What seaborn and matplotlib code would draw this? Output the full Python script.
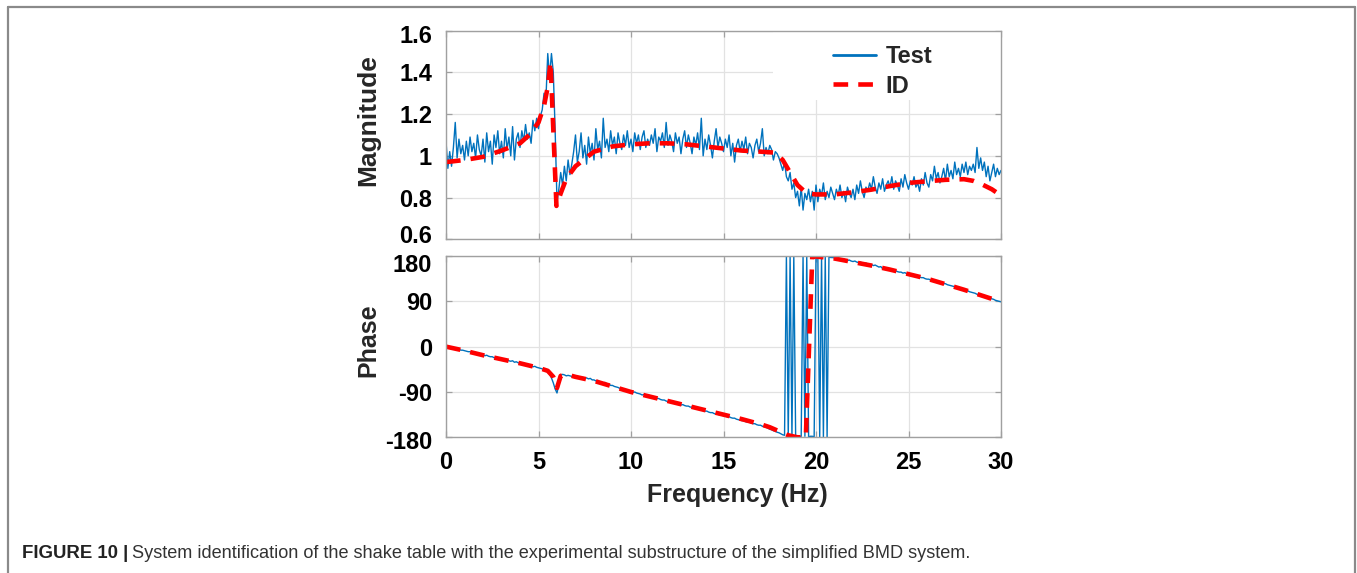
import numpy as np
import pandas as pd
import matplotlib
matplotlib.use("Agg")
import matplotlib.pyplot as plt
import matplotlib.transforms as mtransforms
import seaborn as sns
from matplotlib.lines import Line2D
from matplotlib.patches import Rectangle

# ---------------- data ----------------
# measured magnitude, sampled every 0.1 Hz from 0 to 30 Hz
mag_test = [
    1.07, 0.94, 1.02, 0.95, 1.04, 1.16, 0.99, 1.08, 1.01, 1.05,
    0.98, 1.07, 1.00, 1.09, 1.02, 1.06, 0.99, 1.10, 1.03, 1.00,
    1.08, 0.97, 1.11, 1.02, 1.07, 0.96, 1.10, 1.04, 1.12, 1.01,
    1.07, 0.99, 1.13, 1.03, 1.09, 1.00, 1.14, 0.98, 1.08, 1.11,
    1.04, 1.12, 1.07, 1.15, 1.08, 1.11, 1.06, 1.17, 1.12, 1.18,
    1.13, 1.19, 1.22, 1.30, 1.27, 1.49, 1.38, 1.49, 1.40, 1.12,
    0.78, 0.84, 0.92, 0.86, 0.95, 0.88, 0.98, 0.91, 0.96, 1.02,
    1.10, 0.97, 1.02, 1.11, 0.99, 1.05, 0.96, 1.09, 1.01, 1.06,
    0.98, 1.13, 1.03, 1.07, 0.99, 1.18, 1.04, 1.08, 1.02, 1.12,
    1.05, 1.09, 1.01, 1.11, 1.06, 1.03, 1.10, 1.05, 1.12, 1.04,
    1.08, 1.02, 1.11, 1.06, 1.10, 1.03, 1.09, 1.12, 1.04, 1.08,
    1.05, 1.10, 1.06, 1.13, 1.02, 1.09, 1.07, 1.11, 1.04, 1.16,
    1.05, 1.10, 1.07, 1.02, 1.11, 1.06, 1.09, 1.01, 1.08, 1.12,
    1.04, 1.10, 1.06, 1.01, 1.09, 1.05, 1.11, 1.03, 1.18, 1.00,
    1.08, 1.03, 1.10, 1.05, 0.99, 1.07, 1.13, 1.04, 1.09, 1.06,
    1.02, 1.08, 1.04, 1.10, 1.00, 1.06, 0.97, 1.05, 1.08, 1.02,
    1.07, 1.03, 1.09, 1.01, 1.06, 1.04, 0.99, 1.05, 1.08, 1.02,
    1.06, 1.13, 1.00, 1.04, 1.01, 1.05, 1.03, 0.98, 1.02, 1.01,
    0.99, 0.96, 0.93, 0.97, 0.90, 0.88, 0.92, 0.84, 0.87, 0.80,
    0.83, 0.76, 0.85, 0.74, 0.82, 0.79, 0.84, 0.78, 0.83, 0.74,
    0.86, 0.78, 0.84, 0.81, 0.87, 0.79, 0.83, 0.80, 0.85, 0.82,
    0.79, 0.84, 0.81, 0.86, 0.80, 0.83, 0.78, 0.85, 0.82, 0.80,
    0.84, 0.79, 0.86, 0.82, 0.88, 0.83, 0.80, 0.85, 0.83, 0.87,
    0.84, 0.90, 0.85, 0.82, 0.87, 0.84, 0.89, 0.83, 0.86, 0.88,
    0.85, 0.90, 0.84, 0.88, 0.86, 0.83, 0.89, 0.85, 0.91, 0.87,
    0.84, 0.88, 0.86, 0.90, 0.85, 0.87, 0.83, 0.89, 0.86, 0.92,
    0.87, 0.85, 0.91, 0.88, 0.95, 0.89, 0.92, 0.87, 0.90, 0.94,
    0.88, 0.96, 0.90, 0.93, 0.89, 0.97, 0.91, 0.94, 0.90, 0.96,
    0.92, 0.97, 0.91, 0.95, 0.93, 0.96, 0.92, 1.04, 0.94, 0.99,
    0.93, 0.97, 0.90, 0.95, 0.88, 0.92, 0.96, 0.90, 0.94, 0.91,
    0.93,
]

# measured phase (deg), sampled every 0.1 Hz from 0 to 30 Hz
phase_test = [
    0, -1, 0, -2, -2, -5, -4, -5, -7, -7,
    -8, -9, -10, -10, -12, -12, -14, -13, -15, -16,
    -16, -18, -17, -19, -20, -20, -22, -21, -23, -24,
    -24, -26, -25, -27, -28, -29, -28, -31, -30, -32,
    -33, -33, -35, -35, -37, -37, -38, -40, -39, -41,
    -42, -43, -44, -46, -47, -50, -55, -62, -72, -84,
    -92, -75, -57, -55, -56, -58, -57, -58, -59, -60,
    -59, -61, -60, -62, -61, -63, -62, -64, -63, -66,
    -66, -68, -67, -70, -70, -72, -71, -74, -74, -77,
    -77, -79, -80, -81, -83, -84, -84, -86, -87, -88,
    -89, -91, -90, -92, -93, -94, -96, -95, -97, -98,
    -97, -100, -99, -101, -103, -103, -105, -106, -106, -108,
    -109, -109, -111, -110, -113, -112, -114, -116, -115, -117,
    -118, -118, -120, -120, -122, -123, -122, -125, -125, -127,
    -128, -128, -130, -131, -131, -133, -134, -134, -136, -136,
    -137, -138, -139, -139, -141, -142, -142, -144, -145, -146,
    -147, -147, -149, -150, -150, -152, -153, -153, -155, -156,
    -156, -158, -159, -160, -162, -164, -165, -167, -168, -170,
    -171, -173, -175, -176, 180, -179, 180, -179, 180, -179,
    -178, -179, -178, 180, -178, 180, -179, -178, -178, -179,
    180, 179, -180, 178, -180, 179, -180, 178, 177, 177,
    176, 175, 176, 174, 173, 174, 172, 171, 172, 170,
    169, 170, 168, 167, 168, 166, 165, 166, 164, 163,
    163, 161, 162, 160, 158, 159, 155, 154, 156, 153,
    153, 152, 150, 151, 149, 148, 148, 146, 147, 145,
    144, 144, 142, 141, 141, 139, 138, 137, 137, 135,
    134, 134, 132, 131, 130, 130, 128, 127, 126, 125,
    125, 123, 122, 121, 120, 119, 117, 116, 115, 114,
    113, 111, 111, 109, 108, 107, 106, 104, 104, 102,
    101, 100, 99, 97, 96, 95, 94, 92, 91, 90,
    89,
]

# identified model
id_mag_freq = [0, 1, 2, 3, 4, 4.5, 5, 5.3, 5.5, 5.65, 5.97, 6.2, 6.5, 7,
               8, 9, 10, 11, 12, 13, 14, 15, 16, 17, 17.8, 18.2, 18.6, 19.0,
               19.5, 20, 21, 22, 23, 24, 25, 26, 27, 28, 28.5, 29, 29.5, 30]
id_mag = [0.97, 0.98, 0.995, 1.025, 1.06, 1.10, 1.16, 1.24, 1.33, 1.45, 0.76,
          0.82, 0.89, 0.95, 1.02, 1.045, 1.055, 1.06, 1.06, 1.055, 1.045,
          1.035, 1.025, 1.02, 1.015, 0.98, 0.92, 0.86, 0.82, 0.815, 0.815,
          0.825, 0.838, 0.855, 0.87, 0.878, 0.885, 0.888, 0.88, 0.862,
          0.84, 0.81]

id_phase_freq = [0, 1, 2, 3, 4, 5, 5.5, 5.8, 6.0, 6.2, 6.5, 7, 8, 9, 10, 11,
                 12, 13, 14, 15, 16, 17, 17.5, 18, 18.5, 19.0, 19.45, 19.8,
                 20.0, 20.5, 21, 22, 23, 24, 25, 26, 27, 28, 29, 30]
id_phase = [0, -8, -17, -25, -33, -42, -48, -60, -82, -58, -55, -60, -68, -79,
            -90, -99, -108, -117, -126, -135, -144, -154, -160, -168, -176,
            -180, -180, 180, 179, 177, 175, 168, 161, 153, 144, 135, 124, 113,
            101, 89]

mag_ticks = [0.6, 0.8, 1.0, 1.2, 1.4, 1.6]
mag_tick_labels = ["0.6", "0.8", "1", "1.2", "1.4", "1.6"]
phase_ticks = [-180, -90, 0, 90, 180]
freq_ticks = [0, 5, 10, 15, 20, 25, 30]
series_labels = ["Test", "ID"]

caption_bold = "FIGURE 10 |"
caption_text = ("System identification of the shake table with the experimental "
                "substructure of the simplified BMD system.")

# ---------------- style ----------------
sns.set_theme(style="whitegrid")
plt.rcParams["font.family"] = ["Liberation Sans", "DejaVu Sans"]
plt.rcParams["font.weight"] = "bold"
plt.rcParams["axes.labelweight"] = "bold"

W, H = 1357, 573
fig = plt.figure(figsize=(W / 100, H / 100), dpi=100)
fig.patch.set_facecolor("white")

ax1 = fig.add_axes([446 / W, 1 - 239.3 / H, 555 / W, 208.7 / H])
ax2 = fig.add_axes([446 / W, 1 - 437.3 / H, 555 / W, 181.3 / H])

test_blue = "#0072BD"
id_red = "#FF0000"
id_dash = (0, (3.2, 2.2))

freq = np.round(np.arange(len(mag_test)) * 0.1, 1)
df_mag = pd.DataFrame({"f": freq, "m": mag_test})
freq_p = np.round(np.arange(len(phase_test)) * 0.1, 1)
df_ph = pd.DataFrame({"f": freq_p, "p": phase_test})
df_id_mag = pd.DataFrame({"f": id_mag_freq, "m": id_mag})
df_id_ph = pd.DataFrame({"f": id_phase_freq, "p": id_phase})

sns.lineplot(data=df_mag, x="f", y="m", ax=ax1, color=test_blue, lw=1.0,
             estimator=None, sort=False, legend=False)
sns.lineplot(data=df_id_mag, x="f", y="m", ax=ax1, color=id_red, lw=3.3,
             estimator=None, sort=False, legend=False)
ax1.lines[-1].set_linestyle(id_dash)

sns.lineplot(data=df_ph, x="f", y="p", ax=ax2, color=test_blue, lw=1.0,
             estimator=None, sort=False, legend=False)
sns.lineplot(data=df_id_ph, x="f", y="p", ax=ax2, color=id_red, lw=3.3,
             estimator=None, sort=False, legend=False)
ax2.lines[-1].set_linestyle(id_dash)

spine_col = "#a0a0a0"
for ax in (ax1, ax2):
    ax.set_xlim(0, 30)
    ax.set_xticks(freq_ticks)
    ax.grid(True, color="#e2e2e2", lw=0.9)
    ax.set_axisbelow(True)
    for s in ax.spines.values():
        s.set_color(spine_col)
        s.set_linewidth(1.0)
    ax.tick_params(direction="in", length=4, width=0.9, color=spine_col,
                   top=True, right=True, bottom=True, left=True,
                   labelsize=17, pad=10, labelcolor="black")
    ax.set_xlabel("")
    ax.set_ylabel("")

ax1.set_ylim(0.6, 1.6)
ax1.set_yticks(mag_ticks)
ax1.set_yticklabels(mag_tick_labels)
ax1.tick_params(labelbottom=False)

ax2.set_ylim(-180, 180)
ax2.set_yticks(phase_ticks)
ax2.set_yticklabels([str(t) for t in phase_ticks])
ax2.set_xticklabels([str(t) for t in freq_ticks])

ax1.set_ylabel("Magnitude", fontsize=19, fontweight="bold")
ax2.set_ylabel("Phase", fontsize=18, fontweight="bold")
ax1.yaxis.set_label_coords(-0.119, 0.572)
ax2.yaxis.set_label_coords(-0.119, 0.537)
ax2.set_xlabel("Frequency (Hz)", fontsize=18, fontweight="bold")
ax2.xaxis.set_label_coords(0.525, -0.252)

# nudge end tick labels like the reference (pixels, + = up)
def nudge(label, dy_px):
    label.set_transform(label.get_transform() +
                        mtransforms.ScaledTranslation(0, dy_px / 100, fig.dpi_scale_trans))

fig.canvas.draw()
for lab in ax1.get_yticklabels():
    if lab.get_text() == "0.6":
        nudge(lab, 5)
    elif lab.get_text() == "1.6":
        nudge(lab, -3)
for lab in ax2.get_yticklabels():
    if lab.get_text() == "180":
        nudge(lab, -6.5)
    elif lab.get_text() == "-180":
        nudge(lab, -3)

# legend area (white box covering grid) and legend
ax1.add_patch(Rectangle((0.589, 0.667), 0.411, 0.333, transform=ax1.transAxes,
                        facecolor="white", edgecolor="none", zorder=1))
handles = [Line2D([], [], color=test_blue, lw=2.0),
           Line2D([], [], color=id_red, lw=3.3, linestyle=id_dash)]
leg = ax1.legend(handles, series_labels, loc="upper left",
                 bbox_to_anchor=(0.698, 0.931), frameon=False, borderpad=0,
                 borderaxespad=0, handlelength=1.8, handletextpad=0.4,
                 labelspacing=0.28, prop={"weight": "bold", "size": 17})

# figure frame (left, top, right)
fc = "#8a8a8a"
xl, xr, yt = 7.5 / W, 1355 / W, 1 - 6.5 / H
fig.add_artist(Line2D([xl, xl], [0, yt], transform=fig.transFigure, color=fc, lw=1.6))
fig.add_artist(Line2D([xl, xr], [yt, yt], transform=fig.transFigure, color=fc, lw=1.6))
fig.add_artist(Line2D([xr, xr], [0, yt], transform=fig.transFigure, color=fc, lw=1.6))

# caption
t1 = fig.text(22 / W, 1 - 553 / H, caption_bold, fontsize=13.4, fontweight="bold",
              va="center", ha="left", color="#222222")
fig.canvas.draw()
bb = t1.get_window_extent()
fig.text((bb.x1 + 4) / W, 1 - 553 / H, caption_text, fontsize=13.1,
         fontweight="normal", va="center", ha="left", color="#333333")

fig.savefig("out.png", dpi=100, facecolor="white")
